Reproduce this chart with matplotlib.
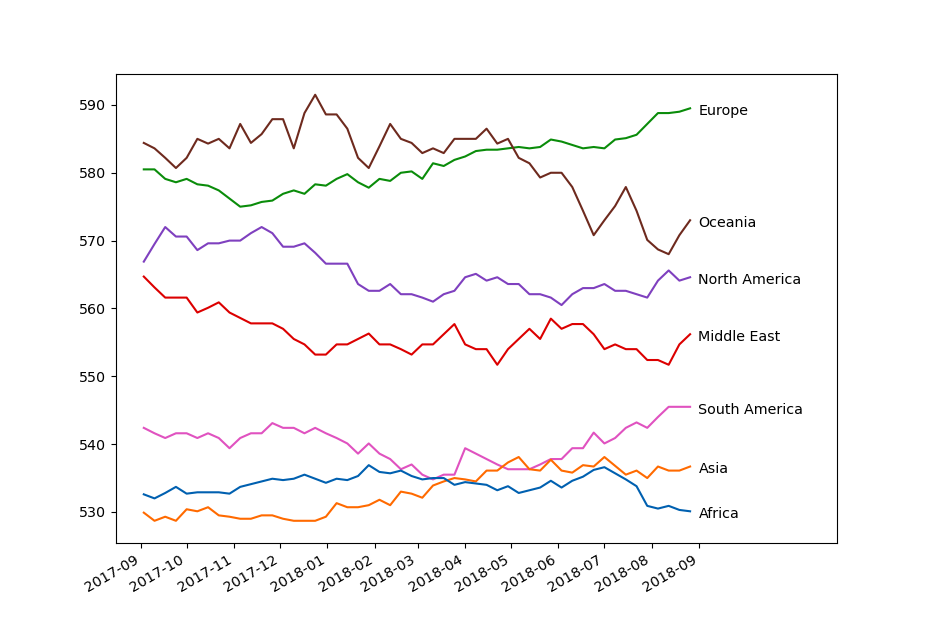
import datetime

import matplotlib
matplotlib.use('Agg')
import matplotlib.dates as mdates
import matplotlib.pyplot as plt

# weekly index values, Sep 2017 - Aug 2018
start = datetime.date(2017, 9, 3)
n_weeks = 52

europe = [580.5, 580.5, 579.1, 578.6, 579.1, 578.3, 578.1, 577.4, 576.2, 575.0,
          575.2, 575.7, 575.9, 576.9, 577.4, 576.9, 578.3, 578.1, 579.1, 579.8,
          578.6, 577.8, 579.1, 578.8, 580.0, 580.2, 579.1, 581.4, 581.0, 581.9,
          582.4, 583.2, 583.4, 583.4, 583.6, 583.8, 583.6, 583.8, 584.9, 584.6,
          584.1, 583.6, 583.8, 583.6, 584.9, 585.1, 585.6, 587.2, 588.8, 588.8,
          589.0, 589.5]
oceania = [584.4, 583.6, 582.2, 580.7, 582.2, 585.0, 584.3, 585.0, 583.6, 587.2,
           584.4, 585.7, 587.9, 587.9, 583.6, 588.8, 591.5, 588.6, 588.6, 586.5,
           582.2, 580.7, 583.9, 587.2, 585.0, 584.4, 582.9, 583.6, 582.9, 585.0,
           585.0, 585.0, 586.5, 584.3, 585.0, 582.2, 581.4, 579.3, 580.0, 580.0,
           577.9, 574.4, 570.8, 573.0, 575.1, 577.9, 574.4, 570.1, 568.7, 568.0,
           570.8, 573.0]
north_america = [566.9, 569.5, 572.0, 570.6, 570.6, 568.6, 569.6, 569.6, 570.0, 570.0,
                 571.1, 572.0, 571.1, 569.1, 569.1, 569.6, 568.2, 566.6, 566.6, 566.6,
                 563.6, 562.6, 562.6, 563.6, 562.1, 562.1, 561.6, 561.0, 562.1, 562.6,
                 564.6, 565.1, 564.1, 564.6, 563.6, 563.6, 562.1, 562.1, 561.6, 560.5,
                 562.1, 563.0, 563.0, 563.6, 562.6, 562.6, 562.1, 561.6, 564.1, 565.6,
                 564.1, 564.6]
middle_east = [564.7, 563.1, 561.6, 561.6, 561.6, 559.4, 560.1, 560.9, 559.4, 558.6,
               557.8, 557.8, 557.8, 557.0, 555.5, 554.7, 553.2, 553.2, 554.7, 554.7,
               555.5, 556.3, 554.7, 554.7, 554.0, 553.2, 554.7, 554.7, 556.2, 557.7,
               554.7, 554.0, 554.0, 551.7, 554.0, 555.5, 557.0, 555.5, 558.5, 557.0,
               557.7, 557.7, 556.2, 554.0, 554.7, 554.0, 554.0, 552.4, 552.4, 551.7,
               554.7, 556.2]
south_america = [542.4, 541.6, 540.9, 541.6, 541.6, 540.9, 541.6, 540.9, 539.4, 540.9,
                 541.6, 541.6, 543.1, 542.4, 542.4, 541.6, 542.4, 541.6, 540.9, 540.1,
                 538.6, 540.1, 538.6, 537.8, 536.3, 537.0, 535.5, 534.8, 535.5, 535.5,
                 539.4, 538.6, 537.8, 537.0, 536.3, 536.3, 536.3, 537.0, 537.8, 537.8,
                 539.4, 539.4, 541.7, 540.1, 540.9, 542.4, 543.2, 542.4, 544.0, 545.5,
                 545.5, 545.5]
asia = [529.9, 528.7, 529.3, 528.7, 530.4, 530.1, 530.7, 529.5, 529.3, 529.0,
        529.0, 529.5, 529.5, 529.0, 528.7, 528.7, 528.7, 529.3, 531.3, 530.7,
        530.7, 531.0, 531.8, 531.0, 533.0, 532.7, 532.1, 533.9, 534.5, 535.0,
        534.8, 534.5, 536.1, 536.1, 537.3, 538.1, 536.3, 536.1, 537.7, 536.1,
        535.8, 536.9, 536.7, 538.1, 536.8, 535.5, 536.1, 535.0, 536.7, 536.1,
        536.1, 536.7]
africa = [532.6, 532.0, 532.8, 533.7, 532.7, 532.9, 532.9, 532.9, 532.7, 533.7,
          534.1, 534.5, 534.9, 534.7, 534.9, 535.5, 534.9, 534.3, 534.9, 534.7,
          535.3, 536.9, 535.9, 535.7, 536.1, 535.3, 534.8, 535.0, 535.0, 534.0,
          534.4, 534.2, 534.0, 533.2, 533.8, 532.8, 533.2, 533.6, 534.6, 533.6,
          534.6, 535.2, 536.2, 536.6, 535.7, 534.8, 533.8, 530.9, 530.5, 530.9,
          530.3, 530.1]

regions = ['Europe', 'Oceania', 'North America', 'Middle East',
           'South America', 'Asia', 'Africa']
series = [europe, oceania, north_america, middle_east,
          south_america, asia, africa]
colors = ['#0a8c0a', '#6e2a1e', '#7f40bf', '#dc0000',
          '#e052c0', '#ff6a00', '#0060b0']

dates = [start + datetime.timedelta(weeks=w) for w in range(n_weeks)]

plt.rcParams['font.size'] = 10.3
fig, ax = plt.subplots(figsize=(9.3, 6.2), dpi=100)
fig.subplots_adjust(left=0.125, right=0.9, top=0.88, bottom=0.125)

for name, values, color in zip(regions, series, colors):
    ax.plot(dates, values, color=color, linewidth=1.5)
    ax.annotate(name, (mdates.date2num(dates[-1]), values[-1]),
                xytext=(6, -2), textcoords='offset points',
                va='center', ha='left')

ax.set_xlim(datetime.date(2017, 8, 16), datetime.date(2018, 11, 30))
ax.set_ylim(525.5, 594.5)
ax.set_yticks([530, 540, 550, 560, 570, 580, 590])

ticks = [datetime.date(2017 + (8 + m) // 12, (8 + m) % 12 + 1, 1) for m in range(13)]
ax.set_xticks(ticks)
ax.xaxis.set_major_formatter(mdates.DateFormatter('%Y-%m'))
for label in ax.get_xticklabels():
    label.set_rotation(30)
    label.set_ha('right')

fig.savefig('out.png', dpi=100)
